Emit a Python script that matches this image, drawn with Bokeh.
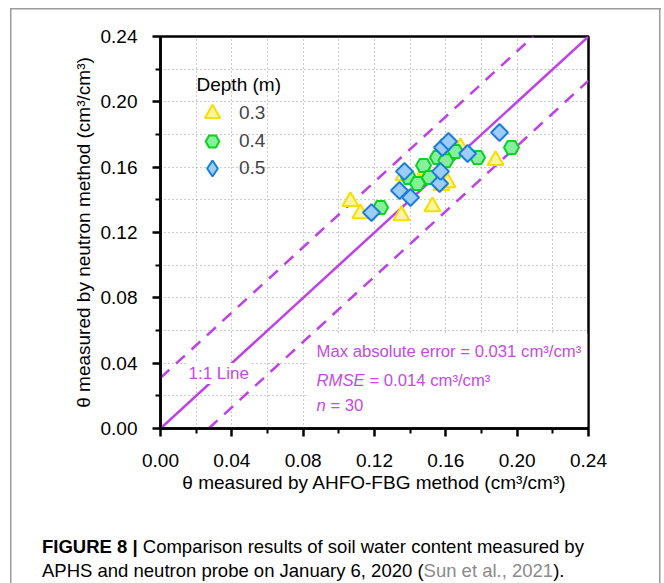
import numpy as np
from bokeh.plotting import figure
from bokeh.layouts import column
from bokeh.models import (Range1d, FixedTicker, Label, Legend, LegendItem, Div)
from bokeh.embed import file_html
from bokeh.resources import INLINE

# ---------------- data ----------------
legend_title = "Depth (m)"
depth_labels = ["0.3", "0.4", "0.5"]

x_d03 = [0.1065, 0.1121, 0.1351, 0.1525, 0.1363, 0.1576, 0.1609, 0.1682, 0.1879, 0.1486]
y_d03 = [0.1390, 0.1316, 0.1304, 0.1359, 0.1549, 0.1488, 0.1506, 0.1720, 0.1641, 0.1580]

x_d04 = [0.1234, 0.1391, 0.1441, 0.1475, 0.1508, 0.1553, 0.1654, 0.1778, 0.1968, 0.1600]
y_d04 = [0.1353, 0.1537, 0.1500, 0.1610, 0.1537, 0.1659, 0.1696, 0.1659, 0.1720, 0.1640]

x_d05 = [0.1183, 0.1340, 0.1402, 0.1368, 0.1565, 0.1570, 0.1581, 0.1615, 0.1722, 0.1901]
y_d05 = [0.1322, 0.1457, 0.1414, 0.1574, 0.1500, 0.1574, 0.1720, 0.1757, 0.1684, 0.1812]

line_11_x = [0.0, 0.24]
line_11_y = [0.0, 0.24]
upper_x = [0.0, 0.209]
upper_y = [0.031, 0.24]
lower_x = [0.027, 0.24]
lower_y = [0.0, 0.213]

major_ticks = [0.0, 0.04, 0.08, 0.12, 0.16, 0.20, 0.24]
minor_ticks = [0.02, 0.06, 0.10, 0.14, 0.18, 0.22]
tick_labels = ["0.00", "0.04", "0.08", "0.12", "0.16", "0.20", "0.24"]

caption_bold = "FIGURE 8 |"
caption_line1 = "Comparison results of soil water content measured by"
caption_line2a = "APHS and neutron probe on January 6, 2020 ("
caption_line2b = "Sun et al., 2021"
caption_line2c = ")."

# ---------------- layout constants ----------------
W_ = 664
H_TOP = 505
H_CAP = 583 - H_TOP
FL, FR, FT, FB = 160, 588, 36, 428
FONT = "Liberation Sans"
PURPLE = "#C44AE6"
LINE_PURPLE = "#BF40EA"
BORDER = "#9c9c9c"

def sx(cx):
    return cx - FL

def sy(cy):
    return FB - cy

AW = {' ': 278, '(': 333, ')': 333, ',': 278, '-': 333, '.': 278, '/': 278, '=': 584,
      '|': 260, ':': 278, '³': 333}
for ch in "0123456789":
    AW[ch] = 556
AW.update(dict(A=667, B=667, C=722, D=722, E=667, F=611, G=778, H=722, I=278, J=500, K=667,
               L=556, M=833, N=722, O=778, P=667, Q=778, R=722, S=667, T=611, U=722, V=667,
               W=944, X=667, Y=667, Z=611))
AW.update(dict(a=556, b=556, c=500, d=556, e=556, f=278, g=556, h=556, i=222, j=222, k=500,
               l=222, m=833, n=556, o=556, p=556, q=556, r=333, s=500, t=278, u=556, v=500,
               w=722, x=500, y=500, z=500))

def tw(s, size):
    return sum(AW.get(ch, 556) for ch in s) * size / 1000.0

# ---------------- main chart ----------------
p = figure(width=W_, height=H_TOP, output_backend="svg", toolbar_location=None,
           x_range=Range1d(0, 0.24), y_range=Range1d(0, 0.24),
           min_border_left=FL, min_border_right=W_ - FR, min_border_top=FT,
           min_border_bottom=H_TOP - FB)
p.background_fill_color = "white"
p.border_fill_color = None
p.outline_line_color = "black"
p.outline_line_width = 2.5
p.styles = {
    "background-color": "white",
    "background-image": ("linear-gradient(%s, %s), linear-gradient(%s, %s), "
                         "linear-gradient(%s, %s)") % ((BORDER,) * 6),
    "background-size": "1.5px %dpx, 1.5px %dpx, 651px 1.5px" % (H_TOP - 8, H_TOP - 8),
    "background-position": "10px 8px, 659px 8px, 10px 8px",
    "background-repeat": "no-repeat",
}

ticker = FixedTicker(ticks=major_ticks, minor_ticks=minor_ticks)
overrides = {t: l for t, l in zip(major_ticks, tick_labels)}
for ax in (p.xaxis[0], p.yaxis[0]):
    ax.ticker = ticker
    ax.major_label_overrides = overrides
    ax.axis_line_width = 2.5
    ax.major_tick_line_width = 2.5
    ax.minor_tick_line_width = 2
    ax.major_tick_out = 8
    ax.major_tick_in = 0
    ax.minor_tick_out = 5
    ax.minor_tick_in = 0
    ax.major_label_text_font = FONT
    ax.major_label_text_font_size = "19px"
    ax.major_label_text_color = "black"
    ax.axis_label_text_font = FONT
    ax.axis_label_text_font_size = "19px"
    ax.axis_label_text_font_style = "normal"
    ax.axis_label_text_color = "black"
p.xaxis[0].major_label_standoff = 17
p.yaxis[0].major_label_standoff = 15
p.xaxis[0].axis_label_standoff = 2
p.yaxis[0].axis_label_standoff = 4
p.xaxis.axis_label = "θ measured by AHFO-FBG method (cm³/cm³)"
p.yaxis.axis_label = "θ measured by neutron method (cm³/cm³)"

for g in (p.xgrid[0], p.ygrid[0]):
    g.grid_line_color = "#9a9a9a"
    g.grid_line_dash = "1 3"
    g.grid_line_width = 1
    g.minor_grid_line_color = "#9a9a9a"
    g.minor_grid_line_dash = "1 3"
    g.minor_grid_line_width = 1

# white block behind statistics text
p.quad(left=[0.083], right=[0.2393], bottom=[0.0012], top=[0.058],
       fill_color="white", line_color=None)

# reference lines
p.line(line_11_x, line_11_y, line_color=LINE_PURPLE, line_width=2.5)
p.line(upper_x, upper_y, line_color=LINE_PURPLE, line_width=2.5, line_dash="12 9")
p.line(lower_x, lower_y, line_color=LINE_PURPLE, line_width=2.5, line_dash="12 9")

TRI = dict(fill_color="#FFF4A0", line_color="#F7DE00", line_width=2)
HEX = dict(fill_color="#86EF9C", line_color="#08D41C", line_width=2)
DIA = dict(fill_color="#9CCCF8", line_color="#1A7ED8", line_width=2)

r03 = p.scatter(x_d03, y_d03, marker="triangle", size=16, **TRI)
r04 = p.scatter(x_d04, y_d04, marker="hex", size=15, **HEX)
# diamond proxy used for the legend swatch (fully covered by the rotated squares)
r05_leg = p.scatter(x_d05, y_d05, marker="diamond", size=11, **DIA)
r05 = p.scatter(x_d05, y_d05, marker="square", angle=np.pi / 4, size=12, **DIA)

# legend: one single-item legend per depth so the swatches can be large
item_centers = [112.7, 140.7, 168.3]
glyph_boxes = [38, 34, 40]
for lab, rend, cy, G in zip(depth_labels, [r03, r04, r05_leg], item_centers, glyph_boxes):
    lg = Legend(items=[LegendItem(label=lab, renderers=[rend])],
                location=(212 - G / 2.0 - FL, FB - cy - G / 2.0))
    lg.label_text_font = FONT
    lg.label_text_font_size = "19px"
    lg.glyph_width = G
    lg.glyph_height = G
    lg.label_height = 20
    lg.spacing = 0
    lg.label_standoff = int(round(239 - (212 + G / 2.0)))
    lg.padding = 0
    lg.margin = 0
    lg.background_fill_alpha = 0
    lg.border_line_alpha = 0
    p.add_layout(lg)

p.add_layout(Label(x=sx(196), y=sy(84), x_units="screen", y_units="screen",
                   text=legend_title, text_font=FONT, text_font_size="19px",
                   text_color="black", text_baseline="middle", text_align="left"))

# 1:1 line label
p.add_layout(Label(x=sx(187), y=sy(373), x_units="screen", y_units="screen",
                   text="1:1 Line", text_font=FONT, text_font_size="17px",
                   text_color=PURPLE, text_baseline="middle", text_align="left",
                   background_fill_color="white", padding=1))

STAT = 16.7

def add_text(cx, cy, txt, style="normal"):
    p.add_layout(Label(x=sx(cx), y=sy(cy), x_units="screen", y_units="screen",
                       text=txt, text_font=FONT, text_font_size="%.1fpx" % STAT,
                       text_font_style=style, text_color=PURPLE,
                       text_baseline="middle", text_align="left"))

add_text(316, 351, "Max absolute error = 0.031 cm³/cm³")
add_text(316, 380, "RMSE", style="italic")
add_text(316 + tw("RMSE ", STAT), 380, "= 0.014 cm³/cm³")
add_text(316, 405, "n", style="italic")
add_text(316 + tw("n ", STAT), 405, "= 30")

# ---------------- caption ----------------
caption_html = (
    '<div style="font-family: \'Liberation Sans\', Arial, sans-serif; font-size: 18.5px; '
    'line-height: 24px; color: #000; padding: 30px 0 0 42px; white-space: nowrap;">'
    '<b>%s</b> %s<br>%s<span style="color:#8a8a8a">%s</span>%s</div>'
    % (caption_bold, caption_line1, caption_line2a, caption_line2b, caption_line2c))
cap = Div(text=caption_html, width=W_, height=H_CAP, margin=(0, 0, 0, 0))
cap.styles = {
    "background-color": "white",
    "background-image": "linear-gradient(%s, %s), linear-gradient(%s, %s)" % ((BORDER,) * 4),
    "background-size": "1.5px %dpx, 1.5px %dpx" % (H_CAP, H_CAP),
    "background-position": "10px 0px, 659px 0px",
    "background-repeat": "no-repeat",
}

layout = column(p, cap, spacing=0)
open("out.html", "w").write(file_html(layout, INLINE))
